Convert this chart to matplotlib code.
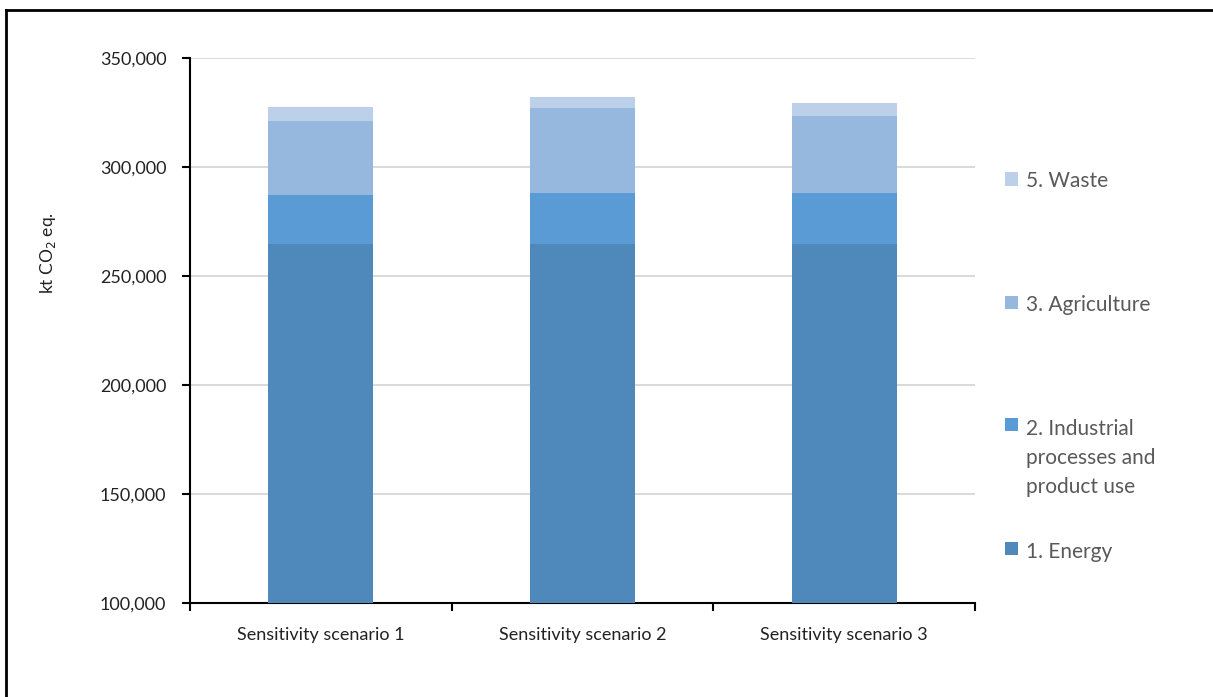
import matplotlib
matplotlib.use("Agg")
import matplotlib.pyplot as plt
from matplotlib.patches import Rectangle
from matplotlib.lines import Line2D
from matplotlib.ticker import FuncFormatter, MultipleLocator
import numpy as np

plt.rcParams['font.family'] = ['Lato', 'DejaVu Sans']

scenarios = ["Sensitivity scenario 1", "Sensitivity scenario 2", "Sensitivity scenario 3"]
energy = [264500, 264700, 264700]
industrial = [22650, 23550, 23550]
agriculture = [34100, 39000, 35050]
waste = [6150, 5050, 5950]

series_labels = ["1. Energy", "2. Industrial\nprocesses and\nproduct use", "3. Agriculture", "5. Waste"]
series_values = [energy, industrial, agriculture, waste]
series_colors = ["#4F88BB", "#5A9AD5", "#96B8DF", "#BCD0EA"]

W, H = 1213, 697
fig = plt.figure(figsize=(W / 100, H / 100), dpi=100)
ax = fig.add_axes([0.1566, 0.1349, 0.8038 - 0.1566, 0.9168 - 0.1349])

x = np.arange(len(scenarios))
bottom = np.zeros(len(scenarios))
for vals, col in zip(series_values, series_colors):
    ax.bar(x, vals, width=0.4, bottom=bottom, color=col, linewidth=0, zorder=3)
    bottom += np.array(vals)

ax.set_ylim(100000, 350000)
ax.set_xlim(-0.5, 2.5)
ax.yaxis.set_major_locator(MultipleLocator(50000))
ax.yaxis.set_major_formatter(FuncFormatter(lambda v, p: f"{int(v):,}"))
ax.grid(axis='y', color='#D9D9D9', linewidth=1.4, zorder=0)
ax.set_axisbelow(True)

ax.set_xticks(x)
ax.set_xticklabels(scenarios, fontsize=13, color='#222222')
ax.set_xticks([-0.5, 0.5, 1.5, 2.5], minor=True)
ax.tick_params(axis='x', which='major', length=0, pad=17)
ax.tick_params(axis='x', which='minor', length=6, width=1.5, direction='out', color='black')
ax.tick_params(axis='y', length=6, width=1.5, direction='out', labelsize=13, labelcolor='#222222', pad=11)

for s in ['top', 'right']:
    ax.spines[s].set_visible(False)
for s in ['left', 'bottom']:
    ax.spines[s].set_linewidth(1.5)
    ax.spines[s].set_color('black')

fig.text(48 / W, 1 - 253 / H, r"kt CO$_2$ eq.", rotation=90, ha='center', va='center',
         fontsize=12.5, color='#222222')

# legend entries drawn top to bottom: (series index, marker centre y, last-line baseline y) in pixels
legend_rows = [(3, 179, 187), (2, 302, 311), (1, 424, 493), (0, 548, 558)]
for idx, ymark, ybase in legend_rows:
    fig.patches.append(Rectangle((1005 / W, 1 - (ymark + 6.5) / H), 13 / W, 13 / H,
                                 transform=fig.transFigure, facecolor=series_colors[idx],
                                 edgecolor='none'))
    fig.text(1026 / W, 1 - ybase / H, series_labels[idx], ha='left', va='baseline',
             fontsize=15, color='#595959', linespacing=1.55)

# outer frame (left and top edges)
fig.add_artist(Line2D([6 / W, 6 / W], [0, 1 - 10 / H], transform=fig.transFigure,
                      color='black', linewidth=2))
fig.add_artist(Line2D([6 / W, 1], [1 - 10 / H, 1 - 10 / H], transform=fig.transFigure,
                      color='black', linewidth=2))

fig.savefig("out.png", dpi=100)
